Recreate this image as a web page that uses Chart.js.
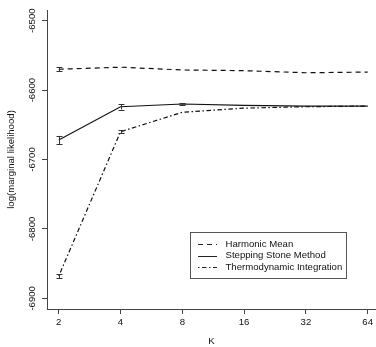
<!DOCTYPE html>
<html>
<head>
<meta charset="utf-8">
<script src="https://cdn.jsdelivr.net/npm/chart.js@4"></script>
<style>
  html, body { margin: 0; padding: 0; background: #fff; }
  #wrap { width: 376px; height: 347px; }
</style>
</head>
<body>
<div id="wrap"><canvas id="likelihoodChart"></canvas></div>
<script>
// K values (x positions are log2(K) - 1)
const kLabels = [2, 4, 8, 16, 32, 64];
const yTicks = [-6900, -6800, -6700, -6600, -6500];

const harmonicMean = [-6570, -6567, -6571, -6572, -6575, -6574];
const harmonicErr = [3, 0, 0, 0, 0, 0];
const steppingStone = [-6672, -6624, -6620, -6622, -6623, -6623];
const steppingErr = [6, 4, 1, 0, 0, 0];
const thermoIntegration = [-6868, -6660, -6632, -6626, -6624, -6623];
const thermoErr = [3, 2, 0, 0, 0, 0];

const FONT = "'Liberation Sans', Arial, Helvetica, sans-serif";
const AXIS_COLOR = "#444";

function toPoints(values, errs) {
    return values.map((v, i) => ({ x: i, y: v, err: errs[i] }));
}

const errorBars = {
    id: "errorBars",
    afterDatasetsDraw(chart) {
        const ctx = chart.ctx;
        const xs = chart.scales.x, ys = chart.scales.y;
        ctx.save();
        ctx.strokeStyle = "#333";
        ctx.lineWidth = 1;
        ctx.setLineDash([]);
        chart.data.datasets.forEach(ds => {
            ds.data.forEach(p => {
                if (!p.err) return;
                const x = Math.round(xs.getPixelForValue(p.x)) + 0.5;
                const y1 = ys.getPixelForValue(p.y - p.err);
                const y2 = ys.getPixelForValue(p.y + p.err);
                ctx.beginPath();
                ctx.moveTo(x, y1); ctx.lineTo(x, y2);
                ctx.moveTo(x - 3, Math.round(y1) + 0.5); ctx.lineTo(x + 3, Math.round(y1) + 0.5);
                ctx.moveTo(x - 3, Math.round(y2) + 0.5); ctx.lineTo(x + 3, Math.round(y2) + 0.5);
                ctx.stroke();
            });
        });
        ctx.restore();
    }
};

const boxLegend = {
    id: "boxLegend",
    afterDraw(chart) {
        const ctx = chart.ctx;
        const left = 190.5, top = 232.5, w = 156, h = 46;
        ctx.save();
        ctx.strokeStyle = "#555";
        ctx.lineWidth = 1;
        ctx.setLineDash([]);
        ctx.strokeRect(left, top, w, h);
        ctx.font = "9.6px " + FONT;
        ctx.fillStyle = "#111";
        ctx.textBaseline = "middle";
        chart.data.datasets.forEach((ds, i) => {
            const y = top + 11.5 + i * 11.7;
            ctx.strokeStyle = "#222";
            ctx.lineWidth = 1;
            ctx.setLineDash(ds.borderDash || []);
            ctx.beginPath();
            ctx.moveTo(198, Math.round(y) + 0.5);
            ctx.lineTo(217, Math.round(y) + 0.5);
            ctx.stroke();
            ctx.fillText(ds.label, 225.5, y);
        });
        ctx.restore();
    }
};

const ctx = document.getElementById("likelihoodChart").getContext("2d");
new Chart(ctx, {
    type: "line",
    data: {
        datasets: [
            {
                label: "Harmonic Mean",
                data: toPoints(harmonicMean, harmonicErr),
                borderColor: "#111",
                borderWidth: 1.2,
                borderDash: [5, 4],
                pointRadius: 0,
                tension: 0
            },
            {
                label: "Stepping Stone Method",
                data: toPoints(steppingStone, steppingErr),
                borderColor: "#111",
                borderWidth: 1.2,
                borderDash: [],
                pointRadius: 0,
                tension: 0
            },
            {
                label: "Thermodynamic Integration",
                data: toPoints(thermoIntegration, thermoErr),
                borderColor: "#111",
                borderWidth: 1.2,
                borderDash: [1.5, 2.5, 4.5, 2.5],
                pointRadius: 0,
                tension: 0
            }
        ]
    },
    options: {
        responsive: true,
        maintainAspectRatio: false,
        animation: false,
        devicePixelRatio: 1,
        layout: { padding: { top: 10, right: 0, left: 0, bottom: 0 } },
        plugins: {
            legend: { display: false },
            tooltip: { enabled: false }
        },
        scales: {
            x: {
                type: "linear",
                min: -0.19,
                max: 5.134,
                afterBuildTicks: scale => { scale.ticks = kLabels.map((k, i) => ({ value: i })); },
                afterFit: scale => { scale.height = 38; },
                ticks: {
                    callback: v => String(kLabels[v]),
                    color: "#111",
                    font: { family: FONT, size: 9.6 },
                    padding: 3,
                    maxRotation: 0
                },
                grid: { drawOnChartArea: false, drawTicks: true, tickLength: 5, tickColor: AXIS_COLOR },
                border: { display: true, color: AXIS_COLOR, width: 1 },
                title: {
                    display: true,
                    text: "K",
                    color: "#111",
                    font: { family: FONT, size: 9.6 },
                    padding: { top: 0, bottom: 0 }
                }
            },
            y: {
                type: "linear",
                min: -6915.4,
                max: -6484.6,
                afterBuildTicks: scale => { scale.ticks = yTicks.map(v => ({ value: v })); },
                afterFit: scale => { scale.width = 47; },
                ticks: {
                    callback: v => String(v),
                    minRotation: 90,
                    maxRotation: 90,
                    crossAlign: "center",
                    padding: -3,
                    color: "#111",
                    font: { family: FONT, size: 9.6 }
                },
                grid: { drawOnChartArea: false, drawTicks: true, tickLength: 5, tickColor: AXIS_COLOR },
                border: { display: true, color: AXIS_COLOR, width: 1 },
                title: {
                    display: true,
                    text: "log(marginal likelihood)",
                    color: "#111",
                    font: { family: FONT, size: 9.6 },
                    padding: { top: 6, bottom: 0 }
                }
            }
        }
    },
    plugins: [errorBars, boxLegend]
});
</script>
</body>
</html>
